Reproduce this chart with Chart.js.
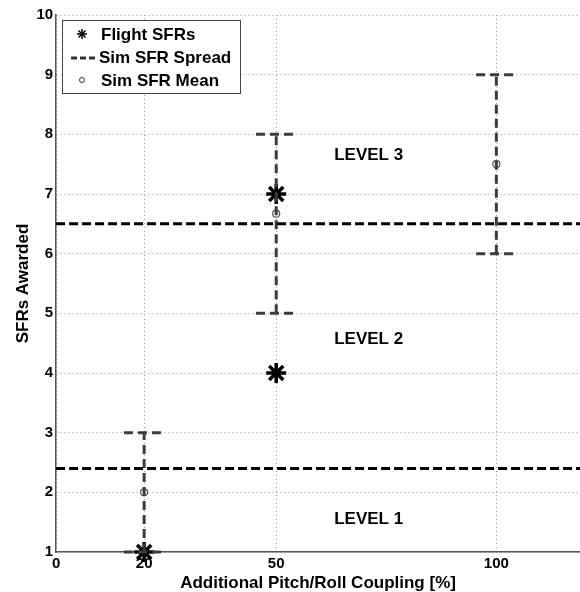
<!DOCTYPE html>
<html>
<head>
<meta charset="utf-8">
<script src="https://cdn.jsdelivr.net/npm/chart.js@4"></script>
<style>
  html, body { margin: 0; padding: 0; background: #fff; }
  #wrap { width: 580px; height: 592px; position: relative; }
</style>
</head>
<body>
<div id="wrap"><canvas id="chart"></canvas></div>
<script>
// data
const xTicks = [0, 20, 50, 100];
const flightX = [20, 50, 50];
const flightY = [1, 7, 4];
const simX = [20, 50, 100];
const simLow = [1, 5, 6];
const simHigh = [3, 8, 9];
const simMean = [2, 6.67, 7.5];
const levelBounds = [2.4, 6.5];
const levelNames = ['LEVEL 1', 'LEVEL 2', 'LEVEL 3'];
const levelLabelPos = [[71, 1.55], [71, 4.57], [71, 7.65]];
const capHalf = 4.6;
const xMax = 119;

const FONT = 'Liberation Sans, Arial, sans-serif';

function segment(pts, color, width, dash) {
    return {
        data: pts,
        showLine: true,
        borderColor: color,
        borderWidth: width,
        borderDash: dash,
        pointRadius: 0,
        pointHoverRadius: 0,
        clip: false
    };
}

const lineSets = [];
levelBounds.forEach(b => {
    lineSets.push(segment([{ x: 0, y: b }, { x: xMax, y: b }], '#000', 3, [9, 4]));
});
simX.forEach((x, i) => {
    lineSets.push(segment([{ x: x, y: simLow[i] }, { x: x, y: simHigh[i] }], '#3c3c3c', 3, [9, 5]));
    lineSets.push(segment([{ x: x - capHalf, y: simHigh[i] }, { x: x + capHalf, y: simHigh[i] }], '#3c3c3c', 3, [9, 5]));
    lineSets.push(segment([{ x: x - capHalf, y: simLow[i] }, { x: x + capHalf, y: simLow[i] }], '#3c3c3c', 3, [9, 5]));
});

const extras = {
    id: 'extras',
    afterDatasetsDraw(chart) {
        const { ctx, scales } = chart;
        ctx.save();
        ctx.fillStyle = '#000';
        ctx.font = 'bold 17px ' + FONT;
        ctx.textAlign = 'center';
        ctx.textBaseline = 'middle';
        levelNames.forEach((t, i) => {
            const p = levelLabelPos[i];
            ctx.fillText(t, scales.x.getPixelForValue(p[0]), scales.y.getPixelForValue(p[1]));
        });

        // legend box
        const lx = 62, ly = 20, lw = 178, lh = 73;
        ctx.fillStyle = '#fff';
        ctx.fillRect(lx, ly, lw, lh);
        ctx.strokeStyle = '#444';
        ctx.lineWidth = 1;
        ctx.strokeRect(lx + 0.5, ly + 0.5, lw, lh);

        ctx.textAlign = 'left';
        ctx.fillStyle = '#000';
        ctx.font = 'bold 17px ' + FONT;
        ctx.fillText('Flight SFRs', 101, 35);
        ctx.fillText('Sim SFR Spread', 99, 58);
        ctx.fillText('Sim SFR Mean', 101, 81);

        // asterisk symbol
        ctx.strokeStyle = '#000';
        ctx.lineWidth = 1.5;
        const sx = 82, sy = 34, r = 5;
        for (let k = 0; k < 4; k++) {
            const a = k * Math.PI / 4;
            ctx.beginPath();
            ctx.moveTo(sx - r * Math.sin(a), sy - r * Math.cos(a));
            ctx.lineTo(sx + r * Math.sin(a), sy + r * Math.cos(a));
            ctx.stroke();
        }
        // dashed line
        ctx.strokeStyle = '#333';
        ctx.lineWidth = 3;
        ctx.setLineDash([6, 3]);
        ctx.beginPath();
        ctx.moveTo(71, 58);
        ctx.lineTo(98, 58);
        ctx.stroke();
        ctx.setLineDash([]);
        // circle
        ctx.strokeStyle = '#333';
        ctx.lineWidth = 1;
        ctx.beginPath();
        ctx.arc(82, 80, 2.5, 0, Math.PI * 2);
        ctx.stroke();
        ctx.restore();
    }
};

new Chart(document.getElementById('chart'), {
    type: 'scatter',
    data: {
        datasets: lineSets.concat([
            {
                label: 'Sim SFR Mean',
                data: simX.map((x, i) => ({ x: x, y: simMean[i] })),
                pointStyle: 'circle',
                pointRadius: 3.5,
                borderColor: '#555',
                borderWidth: 1.2,
                backgroundColor: '#fff',
                clip: false
            },
            {
                label: 'Flight SFRs',
                data: flightX.map((x, i) => ({ x: x, y: flightY[i] })),
                pointStyle: 'star',
                pointRadius: 10,
                borderColor: '#000',
                borderWidth: 3.5,
                backgroundColor: '#000',
                clip: false
            }
        ])
    },
    options: {
        responsive: true,
        maintainAspectRatio: false,
        animation: false,
        layout: { autoPadding: false, padding: { top: 15, right: 0, left: 13, bottom: 0 } },
        plugins: { legend: { display: false }, tooltip: { enabled: false } },
        scales: {
            x: {
                type: 'linear',
                min: 0,
                max: xMax,
                afterBuildTicks: (axis) => { axis.ticks = xTicks.map(v => ({ value: v })); },
                grid: { color: '#999', drawTicks: false },
                border: { color: '#555', width: 1.5, dash: [1, 3] },
                ticks: { color: '#000', font: { family: FONT, size: 15, weight: 'bold', lineHeight: 1.0 }, padding: 4, maxRotation: 0 },
                title: { display: true, text: 'Additional Pitch/Roll Coupling [%]', color: '#000', font: { family: FONT, size: 17, weight: 'bold', lineHeight: 1.0 }, padding: { top: 0, bottom: 0 } }
            },
            y: {
                min: 1,
                max: 10,
                ticks: { stepSize: 1, color: '#000', font: { family: FONT, size: 15, weight: 'bold' }, padding: 3 },
                grid: { color: '#999', drawTicks: false },
                border: { color: '#555', width: 1.5, dash: [1, 3] },
                title: { display: true, text: 'SFRs Awarded', color: '#000', font: { family: FONT, size: 17, weight: 'bold' }, padding: { top: 0, bottom: 0 } }
            }
        }
    },
    plugins: [extras]
});
</script>
</body>
</html>
